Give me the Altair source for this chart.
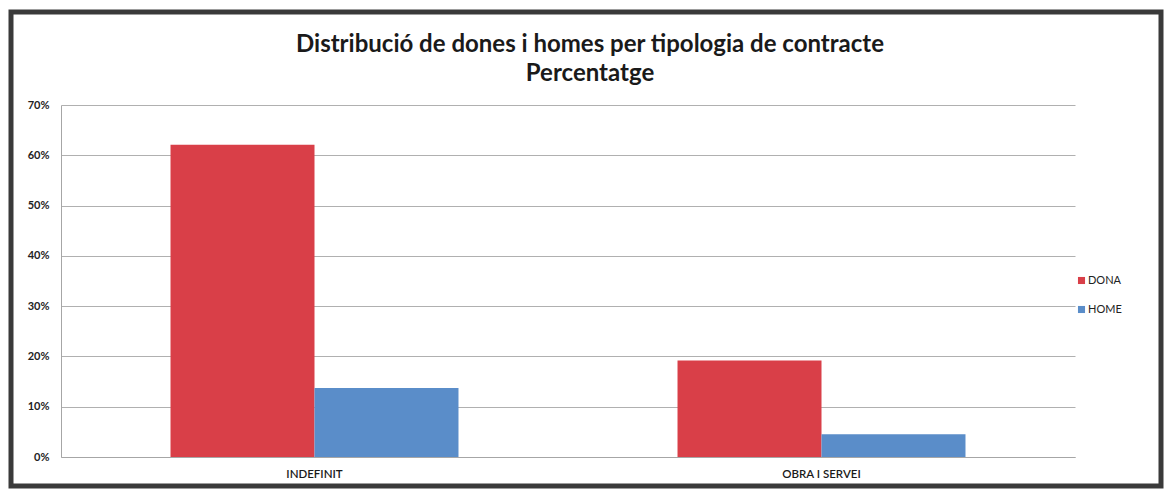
import altair as alt
import pandas as pd

categories = ["INDEFINIT", "OBRA I SERVEI"]
dona = [0.621, 0.192]
home = [0.137, 0.045]
series = ["DONA", "HOME"]
colors = ["#D93F48", "#5A8DC9"]
y_ticks = [0, 0.1, 0.2, 0.3, 0.4, 0.5, 0.6, 0.7]
title_lines = ["Distribució de dones i homes per tipologia de contracte", "Percentatge"]

rows = []
for i, c in enumerate(categories):
    rows.append({"tipus": c, "sexe": "DONA", "valor": dona[i]})
    rows.append({"tipus": c, "sexe": "HOME", "valor": home[i]})
df = pd.DataFrame(rows)

W, H = 1014, 352

bars = alt.Chart(df).mark_bar().encode(
    x=alt.X("tipus:N", sort=categories, title=None,
            scale=alt.Scale(paddingInner=0.432, paddingOuter=0.216),
            axis=alt.Axis(labelAngle=0, ticks=False, domainColor="#a6a6a6",
                          labelFont="Lato", labelFontSize=11.5, labelFontWeight=600,
                          labelColor="#1a1a1a", labelPadding=11)),
    xOffset=alt.XOffset("sexe:N", sort=series, scale=alt.Scale(paddingInner=0, paddingOuter=0)),
    y=alt.Y("valor:Q", title=None,
            scale=alt.Scale(domain=[0, 0.7], nice=False),
            axis=alt.Axis(values=y_ticks, format=".0%", ticks=False, domainColor="#a6a6a6",
                          gridColor="#b0b0b0", labelFont="Lato", labelFontSize=11,
                          labelFontWeight="bold", labelColor="#222222", labelPadding=12)),
    color=alt.Color("sexe:N", sort=series, title=None,
                    scale=alt.Scale(domain=series, range=colors),
                    legend=alt.Legend(orient="none", legendX=1015, legendY=170,
                                      symbolType="square", symbolSize=50,
                                      symbolStrokeWidth=0, labelFont="Lato",
                                      labelFontSize=11, labelColor="#222222",
                                      labelOffset=1, rowPadding=17)),
)

frame = alt.Chart(pd.DataFrame({"k": [0]})).mark_rect(
    filled=False, stroke="#3a3a3a", strokeWidth=5
).encode(
    x=alt.value(-50), x2=alt.value(1100),
    y=alt.value(-93), y2=alt.value(381),
)

t1 = alt.Chart(pd.DataFrame({"t": [title_lines[0]]})).mark_text(
    font="Lato", fontSize=24, fontWeight="bold", color="#1a1a1a",
    align="center", baseline="alphabetic"
).encode(text="t:N", x=alt.value(529), y=alt.value(-53))

t2 = alt.Chart(pd.DataFrame({"t": [title_lines[1]]})).mark_text(
    font="Lato", fontSize=24, fontWeight="bold", color="#1a1a1a",
    align="center", baseline="alphabetic"
).encode(text="t:N", x=alt.value(529), y=alt.value(-24))

chart = alt.layer(frame, bars, t1, t2).properties(
    width=W, height=H,
    autosize=alt.AutoSizeParams(type="none"),
    padding={"left": 53, "top": 97, "right": 89, "bottom": 32},
).configure_view(stroke=None).configure_axis(grid=True).configure_axisX(grid=False)

chart.save("out.html", embed_options={"renderer": "svg", "actions": False})
